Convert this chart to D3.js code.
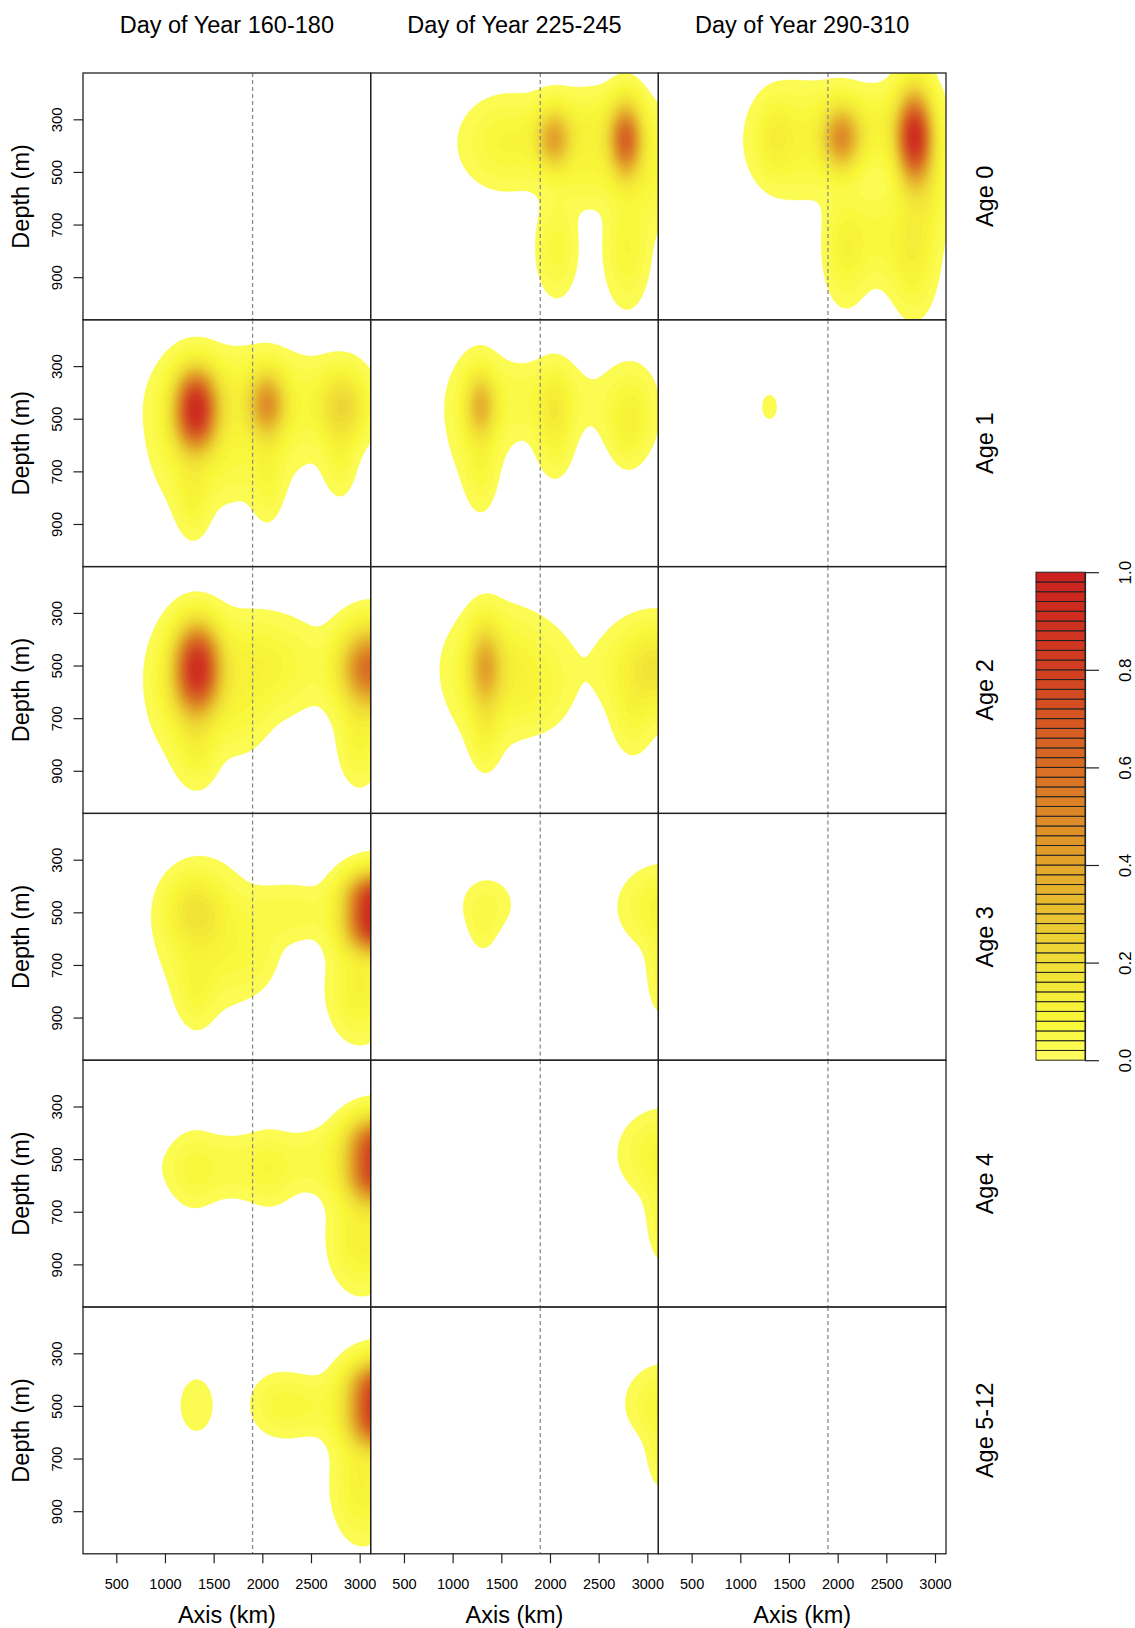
<!DOCTYPE html>
<html>
<head>
<meta charset="utf-8">
<script src="https://cdn.jsdelivr.net/npm/d3@7"></script>
<style>
  body { margin: 0; background: #fff; }
  text { font-family: "Liberation Sans", Arial, Helvetica, sans-serif; fill: #000; }
</style>
</head>
<body>
<svg id="chart" width="1135" height="1628"></svg>
<script>
const dayLabels = ["Day of Year 160-180", "Day of Year 225-245", "Day of Year 290-310"];
const ageLabels = ["Age 0", "Age 1", "Age 2", "Age 3", "Age 4", "Age 5-12"];
const xTicks = [500, 1000, 1500, 2000, 2500, 3000];
const yTicks = [300, 500, 700, 900];
const levelTicks = [0, 0.2, 0.4, 0.6, 0.8, 1.0];
const refAxisKm = 1900;

// density hot spots: [axis km, depth m, peak, spread km, spread m]
const age0_day160 = [];
const age0_day225 = [
  [2040, 375, 0.34, 120, 75],
  [2780, 380, 0.56, 110, 95],
  [1550, 390, 0.08, 300, 110],
  [2500, 345, 0.10, 380, 95],
  [2400, 520, 0.05, 250, 80],
  [2070, 790, 0.07, 140, 120],
  [2790, 790, 0.08, 150, 140],
  [3050, 520, 0.06, 150, 120]
];
const age0_day290 = [
  [2040, 370, 0.42, 130, 80],
  [2790, 370, 0.82, 120, 115],
  [1350, 370, 0.07, 120, 90],
  [1600, 380, 0.08, 330, 135],
  [2500, 330, 0.09, 350, 95],
  [2080, 790, 0.09, 140, 130],
  [2780, 800, 0.11, 150, 145],
  [2430, 740, 0.06, 200, 120],
  [2950, 560, 0.07, 130, 130]
];
const age1_day160 = [
  [1317, 410, 0.52, 140, 75],
  [1317, 520, 0.52, 140, 75],
  [2050, 445, 0.37, 120, 80],
  [2830, 450, 0.20, 170, 90],
  [1900, 420, 0.08, 520, 110],
  [1950, 560, 0.04, 450, 140],
  [1680, 700, 0.02, 200, 90],
  [1250, 550, 0.08, 250, 170],
  [1290, 790, 0.07, 110, 100],
  [2050, 720, 0.06, 110, 110],
  [2800, 640, 0.06, 110, 100]
];
const age1_day225 = [
  [1290, 450, 0.28, 100, 80],
  [1250, 500, 0.06, 200, 160],
  [2050, 450, 0.09, 120, 95],
  [2830, 470, 0.08, 180, 110],
  [1850, 430, 0.05, 450, 100],
  [1290, 700, 0.05, 100, 100],
  [2050, 600, 0.05, 120, 90],
  [2800, 560, 0.04, 110, 80]
];
const age1_day290 = [
  [1300, 455, 0.028, 90, 55]
];
const age2_day160 = [
  [1334, 450, 0.50, 150, 85],
  [1334, 570, 0.50, 150, 85],
  [1200, 580, 0.10, 220, 150],
  [3110, 510, 0.60, 200, 100],
  [1900, 500, 0.10, 450, 120],
  [1750, 700, 0.045, 200, 100],
  [1330, 800, 0.08, 140, 100],
  [3000, 780, 0.08, 140, 110]
];
const age2_day225 = [
  [1334, 505, 0.30, 110, 105],
  [1400, 560, 0.06, 260, 150],
  [1600, 500, 0.07, 400, 130],
  [1900, 620, 0.03, 200, 90],
  [3090, 510, 0.17, 300, 110],
  [2850, 700, 0.05, 140, 100],
  [1334, 760, 0.06, 100, 90]
];
const age2_day290 = [];
const age3_day160 = [
  [1300, 490, 0.12, 200, 90],
  [1450, 600, 0.08, 300, 160],
  [2300, 500, 0.05, 300, 75],
  [1900, 660, 0.035, 200, 100],
  [3160, 440, 0.72, 200, 65],
  [3160, 560, 0.72, 200, 65],
  [3000, 790, 0.10, 200, 120],
  [1317, 800, 0.05, 120, 90]
];
const age3_day225 = [
  [1360, 470, 0.04, 200, 75],
  [1310, 560, 0.03, 100, 70],
  [3180, 480, 0.09, 280, 95],
  [3150, 720, 0.05, 110, 120]
];
const age3_day290 = [];
const age4_day160 = [
  [1700, 530, 0.05, 480, 85],
  [1290, 545, 0.04, 150, 95],
  [2080, 540, 0.04, 150, 90],
  [2600, 500, 0.04, 250, 80],
  [3170, 440, 0.62, 200, 70],
  [3170, 570, 0.62, 200, 70],
  [3020, 800, 0.11, 200, 120]
];
const age4_day225 = [
  [3180, 480, 0.09, 280, 100],
  [3150, 720, 0.05, 110, 120]
];
const age4_day290 = [];
const age5_day160 = [
  [1325, 497, 0.03, 180, 108],
  [2150, 495, 0.05, 190, 80],
  [2500, 500, 0.05, 250, 75],
  [3190, 430, 0.65, 200, 70],
  [3190, 560, 0.65, 200, 70],
  [3030, 800, 0.10, 190, 130]
];
const age5_day225 = [
  [3190, 490, 0.08, 250, 90],
  [3150, 680, 0.045, 110, 100]
];
const age5_day290 = [];

const panels = [
  [age0_day160, age0_day225, age0_day290],
  [age1_day160, age1_day225, age1_day290],
  [age2_day160, age2_day225, age2_day290],
  [age3_day160, age3_day225, age3_day290],
  [age4_day160, age4_day225, age4_day290],
  [age5_day160, age5_day225, age5_day290]
];

const svg = d3.select("#chart");
const plotLeft = 83, plotTop = 73;
const panelW = (946 - 83) / 3;
const panelH = (1553.8 - 73) / 6;

const x = d3.scaleLinear().domain([158, 3113]).range([0, panelW]);
const y = d3.scaleLinear().domain([124, 1062]).range([0, panelH]);

const levels = d3.range(1, 50).map(k => k * 0.02);
const ramp = d3.scaleLinear()
  .domain([0, 0.08, 0.2, 0.4, 0.6, 0.8, 1])
  .range(["#fdfd60", "#f9f738", "#f0de37", "#e3a52a", "#d86d24", "#d13f21", "#cb1f1f"]);
const bandColor = t => ramp(t + 0.01);

// grid a little larger than the panel so edge blobs run to the frame
const nx = 150, ny = 130, pad = 4;
const gx0 = -pad, gy0 = -pad;
const cw = (panelW + 2 * pad) / nx, ch = (panelH + 2 * pad) / ny;

function surface(spots) {
  const vals = new Float64Array(nx * ny);
  for (let j = 0; j < ny; j++) {
    const dep = y.invert(gy0 + (j + 0.5) * ch);
    for (let i = 0; i < nx; i++) {
      const km = x.invert(gx0 + (i + 0.5) * cw);
      let v = 0;
      spots.forEach(([cx, cy, a, sx, sy]) => {
        const dx = (km - cx) / sx, dy = (dep - cy) / sy;
        v += a * Math.exp(-0.5 * (dx * dx + dy * dy));
      });
      vals[i + j * nx] = v;
    }
  }
  return vals;
}

const gridPath = d3.geoPath(d3.geoTransform({
  point: function(px, py) { this.stream.point(gx0 + px * cw, gy0 + py * ch); }
}));

panels.forEach((row, r) => {
  row.forEach((spots, c) => {
    const px = plotLeft + c * panelW, py = plotTop + r * panelH;
    const g = svg.append("g").attr("transform", `translate(${px},${py})`);
    const clipId = `clip-${r}-${c}`;
    g.append("clipPath").attr("id", clipId)
      .append("rect").attr("width", panelW).attr("height", panelH);

    if (spots.length) {
      const contours = d3.contours().size([nx, ny]).thresholds(levels)(surface(spots));
      g.append("g").attr("clip-path", `url(#${clipId})`)
        .selectAll("path")
        .data(contours)
        .join("path")
        .attr("d", gridPath)
        .attr("fill", d => bandColor(d.value))
        .attr("stroke", d => bandColor(d.value))
        .attr("stroke-width", 0.3);
    }

    g.append("line")
      .attr("x1", x(refAxisKm)).attr("x2", x(refAxisKm))
      .attr("y1", 0).attr("y2", panelH)
      .attr("stroke", "#8a8a8a")
      .attr("stroke-width", 1.3)
      .attr("stroke-dasharray", "4,3");

    g.append("rect")
      .attr("width", panelW).attr("height", panelH)
      .attr("fill", "none")
      .attr("stroke", "#222")
      .attr("stroke-width", 1.3);

    // y axis on the left column only
    if (c === 0) {
      const ya = g.append("g")
        .call(d3.axisLeft(y).tickValues(yTicks).tickSize(9.5).tickSizeOuter(0));
      ya.select(".domain").remove();
      ya.selectAll(".tick line").attr("stroke", "#222").attr("stroke-width", 1.2);
      ya.selectAll(".tick text")
        .attr("x", null).attr("dy", null)
        .attr("transform", "translate(-21,0) rotate(-90)")
        .attr("text-anchor", "middle")
        .style("font-size", "15px")
        .style("font-family", '"Liberation Sans", Arial, sans-serif');

      svg.append("text")
        .attr("transform", `translate(29,${py + panelH / 2}) rotate(-90)`)
        .attr("text-anchor", "middle")
        .style("font-size", "23.5px")
        .text("Depth (m)");
    }

    // x axis under the last row
    if (r === panels.length - 1) {
      const xa = g.append("g")
        .attr("transform", `translate(0,${panelH})`)
        .call(d3.axisBottom(x).tickValues(xTicks).tickFormat(d3.format("d")).tickSize(9.5).tickSizeOuter(0));
      xa.select(".domain").remove();
      xa.selectAll(".tick line").attr("stroke", "#222").attr("stroke-width", 1.2);
      xa.selectAll(".tick text")
        .attr("y", 35.5).attr("dy", null)
        .style("font-size", "14.5px")
        .style("font-family", '"Liberation Sans", Arial, sans-serif');
    }
  });

  svg.append("text")
    .attr("transform", `translate(993,${plotTop + r * panelH + panelH / 2}) rotate(-90)`)
    .attr("text-anchor", "middle")
    .style("font-size", "23.5px")
    .text(ageLabels[r]);
});

dayLabels.forEach((label, c) => {
  const cx = plotLeft + c * panelW + panelW / 2;
  svg.append("text")
    .attr("x", cx).attr("y", 33)
    .attr("text-anchor", "middle")
    .style("font-size", "23.5px")
    .text(label);
  svg.append("text")
    .attr("x", cx).attr("y", 1622.5)
    .attr("text-anchor", "middle")
    .style("font-size", "23.5px")
    .text("Axis (km)");
});

// colour key
const keyX = 1036, keyW = 49;
const keyScale = d3.scaleLinear().domain([0, 1]).range([1060.2, 572.2]);
const keyBands = d3.range(0, 50).map(k => k * 0.02);
svg.append("g")
  .selectAll("rect")
  .data(keyBands)
  .join("rect")
  .attr("x", keyX)
  .attr("y", d => keyScale(d + 0.02))
  .attr("width", keyW)
  .attr("height", d => keyScale(d) - keyScale(d + 0.02))
  .attr("fill", d => bandColor(d))
  .attr("stroke", "#222")
  .attr("stroke-width", 1);

const ka = svg.append("g")
  .attr("transform", `translate(${keyX + keyW},0)`)
  .call(d3.axisRight(keyScale).tickValues(levelTicks).tickFormat(d3.format(".1f")).tickSize(14).tickSizeOuter(0));
ka.select(".domain").attr("stroke", "#222").attr("stroke-width", 1.2);
ka.selectAll(".tick line").attr("stroke", "#222").attr("stroke-width", 1.2);
ka.selectAll(".tick text")
  .attr("x", null).attr("dy", null)
  .attr("transform", "translate(46,0) rotate(-90)")
  .attr("text-anchor", "middle")
  .style("font-size", "17px")
  .style("font-family", '"Liberation Sans", Arial, sans-serif');
</script>
</body>
</html>
